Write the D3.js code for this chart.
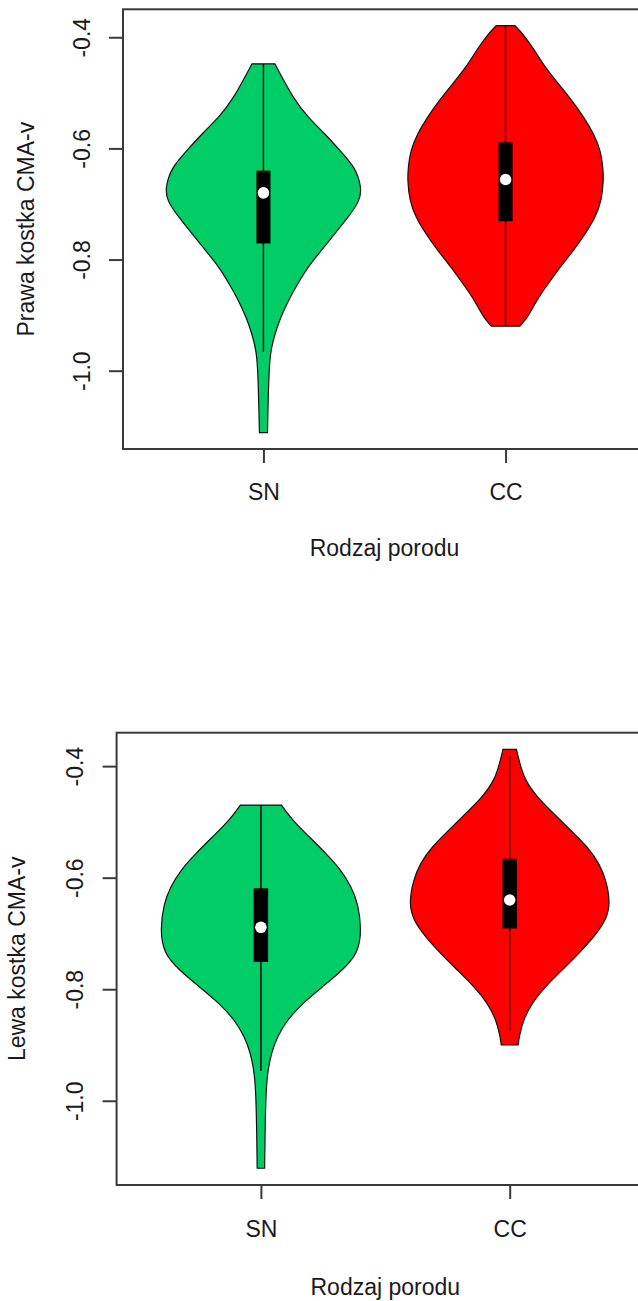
<!DOCTYPE html>
<html>
<head>
<meta charset="utf-8">
<script src="https://cdn.jsdelivr.net/npm/d3@7"></script>
<style>
  html, body { margin: 0; padding: 0; background: #fff; }
  svg { display: block; }
  text { font-family: "Liberation Sans", Arial, sans-serif; }
</style>
</head>
<body>
<svg id="chart" width="638" height="1301"></svg>
<script>
// ---------------- data ----------------
const categories = ["SN", "CC"];
const yTicks = [-1.0, -0.8, -0.6, -0.4];
const yTitles = ["Prawa kostka CMA-v", "Lewa kostka CMA-v"];
const xTitle = "Rodzaj porodu";

// violin profiles: [value, relative density]
const topSN = [
  [-1.1116, 0.041], [-1.0529, 0.048], [-0.9930, 0.059], [-0.9630, 0.075],
  [-0.9330, 0.117], [-0.9031, 0.178], [-0.8731, 0.255], [-0.8431, 0.351],
  [-0.8133, 0.454], [-0.7833, 0.591], [-0.7533, 0.729], [-0.7234, 0.866],
  [-0.6934, 0.987], [-0.6695, 1.000], [-0.6336, 0.935], [-0.6036, 0.780],
  [-0.5736, 0.626], [-0.5438, 0.454], [-0.5138, 0.316], [-0.4478, 0.117]
];
const topCC = [
  [-0.9199, 0.146], [-0.9031, 0.230], [-0.8731, 0.316], [-0.8431, 0.436],
  [-0.8133, 0.557], [-0.7833, 0.694], [-0.7533, 0.814], [-0.7234, 0.918],
  [-0.6934, 0.979], [-0.6575, 1.000], [-0.6336, 0.993], [-0.6036, 0.969],
  [-0.5736, 0.900], [-0.5438, 0.797], [-0.5137, 0.677], [-0.4837, 0.539],
  [-0.4539, 0.402], [-0.4239, 0.299], [-0.3939, 0.178], [-0.3790, 0.095]
];
const bottomSN = [
  [-1.1210, 0.037], [-1.0344, 0.043], [-0.9747, 0.053], [-0.9448, 0.070],
  [-0.9149, 0.103], [-0.8851, 0.161], [-0.8552, 0.261], [-0.8253, 0.412],
  [-0.7955, 0.612], [-0.7656, 0.813], [-0.7357, 0.964], [-0.6939, 1.000],
  [-0.6461, 0.964], [-0.6163, 0.897], [-0.5864, 0.796], [-0.5565, 0.646],
  [-0.5267, 0.479], [-0.4968, 0.311], [-0.4699, 0.204]
];
const bottomCC = [
  [-0.9000, 0.084], [-0.8851, 0.094], [-0.8552, 0.134], [-0.8253, 0.218],
  [-0.7955, 0.352], [-0.7656, 0.521], [-0.7357, 0.688], [-0.7059, 0.839],
  [-0.6760, 0.957], [-0.6461, 1.000], [-0.6043, 0.957], [-0.5744, 0.889],
  [-0.5446, 0.772], [-0.5147, 0.604], [-0.4848, 0.436], [-0.4550, 0.269],
  [-0.4251, 0.151], [-0.3952, 0.100], [-0.3701, 0.067]
];

// box stats: [lower whisker, Q1, median, Q3, upper whisker]
const topSNStats = [-0.966, -0.771, -0.680, -0.640, -0.448];
const topCCStats = [-0.920, -0.731, -0.656, -0.589, -0.379];
const bottomSNStats = [-0.946, -0.751, -0.689, -0.619, -0.470];
const bottomCCStats = [-0.874, -0.691, -0.640, -0.566, -0.382];

// ---------------- layout / style ----------------
const fills = ["#00CD66", "#FF0000"];
const frameColor = "#3a3a3a";
const textColor = "#1a1a1a";
const FS = 23;

const panels = [
  { title: yTitles[0], series: [topSN, topCC], stats: [topSNStats, topCCStats],
    left: 123, right: 646, top: 9.3, bottom: 449,
    yLabX: 89.5, yTitleX: 34, xLabDy: 51, xTitleDy: 107 },
  { title: yTitles[1], series: [bottomSN, bottomCC], stats: [bottomSNStats, bottomCCStats],
    left: 116.6, right: 654, top: 732.7, bottom: 1185,
    yLabX: 83, yTitleX: 25, xLabDy: 51.5, xTitleDy: 110 }
];

const svg = d3.select("#chart");

panels.forEach(p => {
  const g = svg.append("g");

  // scales (R-style 4% extension)
  const allVals = p.series.flat().map(d => d[0]);
  const lo = d3.min(allVals), hi = d3.max(allVals);
  const ext = (hi - lo) * 0.04;
  const y = d3.scaleLinear().domain([lo - ext, hi + ext]).range([p.bottom, p.top]);
  const xlo = 0.5, xhi = categories.length + 0.5, xext = (xhi - xlo) * 0.04;
  const x = d3.scaleLinear().domain([xlo - xext, xhi + xext]).range([p.left, p.right]);
  const w = d3.scaleLinear().domain([0, 1]).range([0, x(1.405) - x(1)]);
  const boxHalf = x(1.029) - x(1);

  // violins
  p.series.forEach((s, i) => {
    const cx = x(i + 1);
    const area = d3.area()
      .curve(d3.curveBasis)
      .y(d => y(d[0]))
      .x0(d => cx - w(d[1]))
      .x1(d => cx + w(d[1]));
    g.append("path")
      .datum(s)
      .attr("d", area)
      .attr("fill", fills[i])
      .attr("stroke", "#111")
      .attr("stroke-width", 1.2);

    const st = p.stats[i];
    g.append("line")
      .attr("x1", cx).attr("x2", cx)
      .attr("y1", y(st[0])).attr("y2", y(st[4]))
      .attr("stroke", "#000").attr("stroke-width", 1.4);
    g.append("rect")
      .attr("x", cx - boxHalf).attr("width", 2 * boxHalf)
      .attr("y", y(st[3])).attr("height", y(st[1]) - y(st[3]))
      .attr("fill", "#000");
    g.append("circle")
      .attr("cx", cx).attr("cy", y(st[2])).attr("r", 5.8)
      .attr("fill", "#fff");
  });

  // frame
  g.append("rect")
    .attr("x", p.left).attr("y", p.top)
    .attr("width", p.right - p.left).attr("height", p.bottom - p.top)
    .attr("fill", "none").attr("stroke", frameColor).attr("stroke-width", 2);

  // y axis
  const yAxis = g.append("g")
    .attr("transform", `translate(${p.left},0)`)
    .call(d3.axisLeft(y).tickValues(yTicks).tickSize(14).tickFormat(d => d.toFixed(1)));
  yAxis.select(".domain").remove();
  yAxis.selectAll(".tick line").attr("stroke", frameColor).attr("stroke-width", 2);
  yAxis.selectAll(".tick text")
    .attr("x", null).attr("dy", null)
    .attr("transform", `translate(${p.yLabX - p.left},0) rotate(-90)`)
    .attr("text-anchor", "middle")
    .attr("fill", textColor)
    .style("font-size", FS + "px")
    .style("font-family", "'Liberation Sans', Arial, sans-serif");

  // x axis
  const xAxis = g.append("g")
    .attr("transform", `translate(0,${p.bottom})`)
    .call(d3.axisBottom(x).tickValues(categories.map((c, i) => i + 1))
      .tickSize(14).tickFormat((d, i) => categories[i]));
  xAxis.select(".domain").remove();
  xAxis.selectAll(".tick line").attr("stroke", frameColor).attr("stroke-width", 2);
  xAxis.selectAll(".tick text")
    .attr("y", p.xLabDy).attr("dy", null)
    .attr("fill", textColor)
    .style("font-size", FS + "px")
    .style("font-family", "'Liberation Sans', Arial, sans-serif");

  // titles
  g.append("text")
    .attr("x", (p.left + p.right) / 2)
    .attr("y", p.bottom + p.xTitleDy)
    .attr("text-anchor", "middle")
    .attr("fill", textColor)
    .style("font-size", FS + "px")
    .text(xTitle);
  g.append("text")
    .attr("transform", `translate(${p.yTitleX},${(p.top + p.bottom) / 2}) rotate(-90)`)
    .attr("text-anchor", "middle")
    .attr("fill", textColor)
    .style("font-size", FS + "px")
    .text(p.title);
});
</script>
</body>
</html>
